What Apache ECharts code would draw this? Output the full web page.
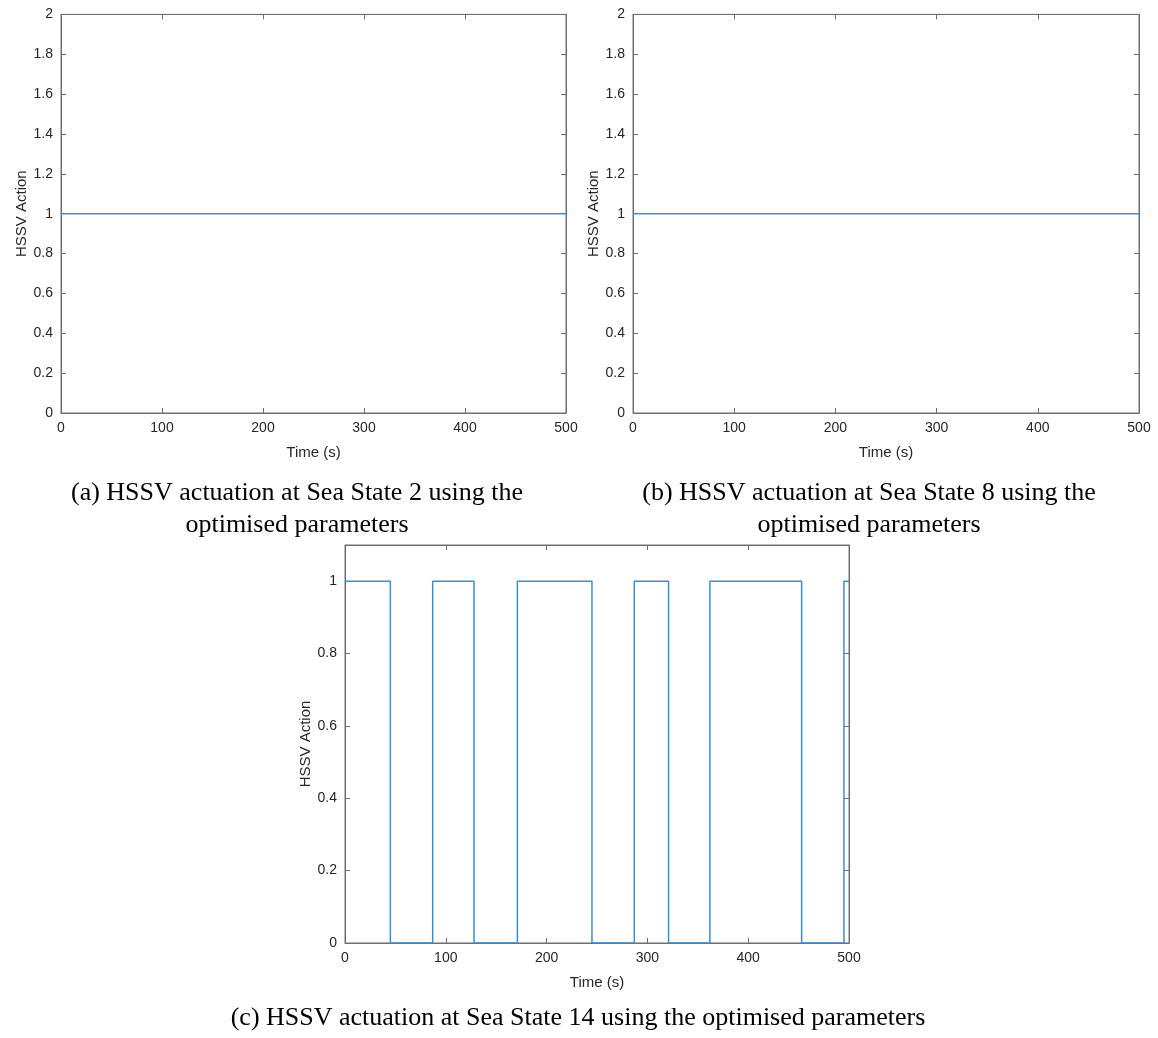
<!DOCTYPE html>
<html>
<head>
<meta charset="utf-8">
<script src="https://cdn.jsdelivr.net/npm/echarts@6/dist/echarts.min.js"></script>
<style>
  html, body { margin: 0; padding: 0; background: #fff; }
  #chart { width: 1158px; height: 1038px; }
</style>
</head>
<body>
<div id="chart"></div>
<script>
// panel (a) and (b): valve held open the whole run
const timeA = [0, 500];
const actionA = [1, 1];
const timeB = [0, 500];
const actionB = [1, 1];
// panel (c): switching instants (s) and the state held from each one
const timeC = [0, 45, 87, 128, 171, 245, 287, 321, 362, 453, 495, 500];
const actionC = [1, 0, 1, 0, 1, 0, 1, 0, 1, 0, 1, 1];

const captions = [
  ['(a) HSSV actuation at Sea State 2 using the', 'optimised parameters'],
  ['(b) HSSV actuation at Sea State 8 using the', 'optimised parameters'],
  ['(c) HSSV actuation at Sea State 14 using the optimised parameters']
];

const axisCol = '#262626';
const boxCol = '#6e6e6e';
const lineCol = '#3a8fd4';
const sans = 'Liberation Sans, Arial, sans-serif';
const serif = 'Liberation Serif, Times New Roman, serif';

const grids = [
  { left: 61, top: 14.4, width: 505, height: 398.6 },
  { left: 633, top: 14.4, width: 506, height: 398.6 },
  { left: 345, top: 545, width: 504, height: 398 }
];
const yMax = [2, 2, 1.1];

function pairs(xs, ys) {
  return xs.map((x, i) => [x, ys[i]]);
}

const xAxes = [];
const yAxes = [];
grids.forEach((g, i) => {
  const tick = { show: true, inside: true, length: 5, lineStyle: { color: boxCol } };
  const line = { show: true, onZero: false, lineStyle: { color: boxCol, width: 1 } };
  xAxes.push({
    gridIndex: i, type: 'value', position: 'bottom', min: 0, max: 500, interval: 100,
    splitLine: { show: false }, axisLine: line, axisTick: tick,
    name: 'Time (s)', nameLocation: 'middle', nameGap: 32,
    nameTextStyle: { color: axisCol, fontSize: 15, fontFamily: sans },
    axisLabel: { color: axisCol, fontSize: 14, fontFamily: sans, margin: 8 }
  });
  xAxes.push({
    gridIndex: i, type: 'value', position: 'top', min: 0, max: 500, interval: 100,
    splitLine: { show: false }, axisLine: line, axisTick: tick,
    axisLabel: { show: false }
  });
  yAxes.push({
    gridIndex: i, type: 'value', position: 'left', min: 0, max: yMax[i], interval: 0.2,
    splitLine: { show: false }, axisLine: line, axisTick: tick,
    name: 'HSSV Action', nameLocation: 'middle', nameGap: 32,
    nameTextStyle: { color: axisCol, fontSize: 15, fontFamily: sans },
    axisLabel: { color: axisCol, fontSize: 14, fontFamily: sans, margin: 8, showMaxLabel: yMax[i] === 2 }
  });
  yAxes.push({
    gridIndex: i, type: 'value', position: 'right', min: 0, max: yMax[i], interval: 0.2,
    splitLine: { show: false }, axisLine: line, axisTick: tick,
    axisLabel: { show: false }
  });
});

const datasets = [pairs(timeA, actionA), pairs(timeB, actionB), pairs(timeC, actionC)];
const series = datasets.map((d, i) => ({
  type: 'line',
  xAxisIndex: i * 2,
  yAxisIndex: i * 2,
  step: 'end',
  data: d,
  symbol: 'none',
  lineStyle: { color: lineCol, width: 1.5 }
}));

const captionPos = [
  { x: 297, y: 493 },
  { x: 869, y: 493 },
  { x: 578, y: 1018 }
];
const graphic = [];
captions.forEach((lines, i) => {
  lines.forEach((t, k) => {
    graphic.push({
      type: 'text',
      x: captionPos[i].x,
      y: captionPos[i].y + k * 32,
      style: {
        text: t,
        fill: '#000',
        font: '26px ' + serif,
        textAlign: 'center',
        textVerticalAlign: 'middle'
      }
    });
  });
});

const chart = echarts.init(document.getElementById('chart'));
chart.setOption({
  backgroundColor: '#fff',
  animation: false,
  grid: grids.map(g => Object.assign({ show: true, borderColor: boxCol, borderWidth: 1 }, g)),
  xAxis: xAxes,
  yAxis: yAxes,
  series: series,
  graphic: graphic
});
</script>
</body>
</html>
